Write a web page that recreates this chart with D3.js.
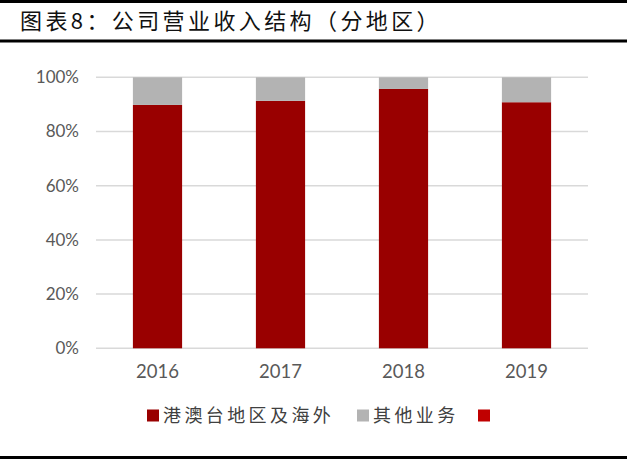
<!DOCTYPE html>
<html>
<head>
<meta charset="utf-8">
<script src="https://cdn.jsdelivr.net/npm/d3@7"></script>
<style>
  body { margin: 0; background: #fff; }
  svg { display: block; }
</style>
</head>
<body>
<svg id="chart" width="640" height="459"></svg>
<script>
// data
const years = ['2016', '2017', '2018', '2019'];
const overseas = [89.8, 91.3, 95.7, 90.8];   // 港澳台地区及海外
const other = [10.2, 8.7, 4.3, 9.2];         // 其他业务
const yTicks = [0, 20, 40, 60, 80, 100];
const seriesNames = ['港澳台地区及海外', '其他业务', ''];
const seriesColors = ['#990000', '#b3b3b3', '#c00000'];

const svg = d3.select('#chart');

// title block with rules
svg.append('rect').attr('x', 0).attr('y', 0).attr('width', 627).attr('height', 3).attr('fill', '#000');
svg.append('rect').attr('x', 0).attr('y', 39.5).attr('width', 627).attr('height', 3).attr('fill', '#000');
svg.append('rect').attr('x', 0).attr('y', 456).attr('width', 627).attr('height', 3).attr('fill', '#000');

svg.append('text')
   .attr('x', 20).attr('y', 29)
   .style('font-family', '"Noto Sans CJK SC", sans-serif')
   .style('font-size', '22px')
   .style('letter-spacing', '3.4px')
   .style('fill', '#111')
   .text('图表8：公司营业收入结构（分地区）');

// plot area
const m = { left: 96, right: 588, top: 77.3, bottom: 348.3 };

const x = d3.scaleBand().domain(years).range([m.left, m.right]).paddingInner(0.6).paddingOuter(0.3);
const y = d3.scaleLinear().domain([0, 100]).range([m.bottom, m.top]);

// grid lines
svg.append('g')
   .selectAll('line')
   .data(yTicks).enter()
   .append('line')
   .attr('x1', m.left).attr('x2', m.right)
   .attr('y1', d => y(d)).attr('y2', d => y(d))
   .style('stroke', '#d9d9d9')
   .style('stroke-width', '1.5px');

// y axis labels
const yAxis = d3.axisLeft(y).tickValues(yTicks).tickFormat(d => d + '%').tickSize(0).tickPadding(0);
const gy = svg.append('g').attr('transform', 'translate(79,0)').call(yAxis);
gy.select('.domain').remove();
gy.selectAll('text')
   .style('font-family', 'Lato, "Open Sans", sans-serif')
   .style('font-size', '17px')
   .style('fill', '#595959');

// stacked bars
const rows = years.map((yr, i) => ({ year: yr, overseas: overseas[i], other: other[i] }));
const stack = d3.stack().keys(['overseas', 'other'])(rows);

svg.append('g')
   .selectAll('g')
   .data(stack).enter()
   .append('g')
   .style('fill', (d, i) => seriesColors[i])
   .selectAll('rect')
   .data(d => d).enter()
   .append('rect')
   .attr('x', d => x(d.data.year))
   .attr('width', x.bandwidth())
   .attr('y', d => y(d[1]))
   .attr('height', d => y(d[0]) - y(d[1]));

// x axis labels
const xAxis = d3.axisBottom(x).tickSize(0).tickPadding(0);
const gx = svg.append('g').attr('transform', 'translate(0,378)').call(xAxis);
gx.select('.domain').remove();
gx.selectAll('text')
   .attr('dy', 0)
   .style('font-family', 'Lato, "Open Sans", sans-serif')
   .style('font-size', '18.5px')
   .style('fill', '#595959');

// legend
const legendX = [147, 357, 478];
const legend = svg.append('g').attr('class', 'legend');
seriesNames.forEach((name, i) => {
   legend.append('rect')
      .attr('x', legendX[i]).attr('y', 409.5)
      .attr('width', 12).attr('height', 12)
      .style('fill', seriesColors[i]);
   legend.append('text')
      .attr('x', legendX[i] + 16).attr('y', 422)
      .style('font-family', '"Noto Sans CJK SC", sans-serif')
      .style('font-size', '18px')
      .style('letter-spacing', '3.4px')
      .style('fill', '#404040')
      .text(name);
});
</script>
</body>
</html>
